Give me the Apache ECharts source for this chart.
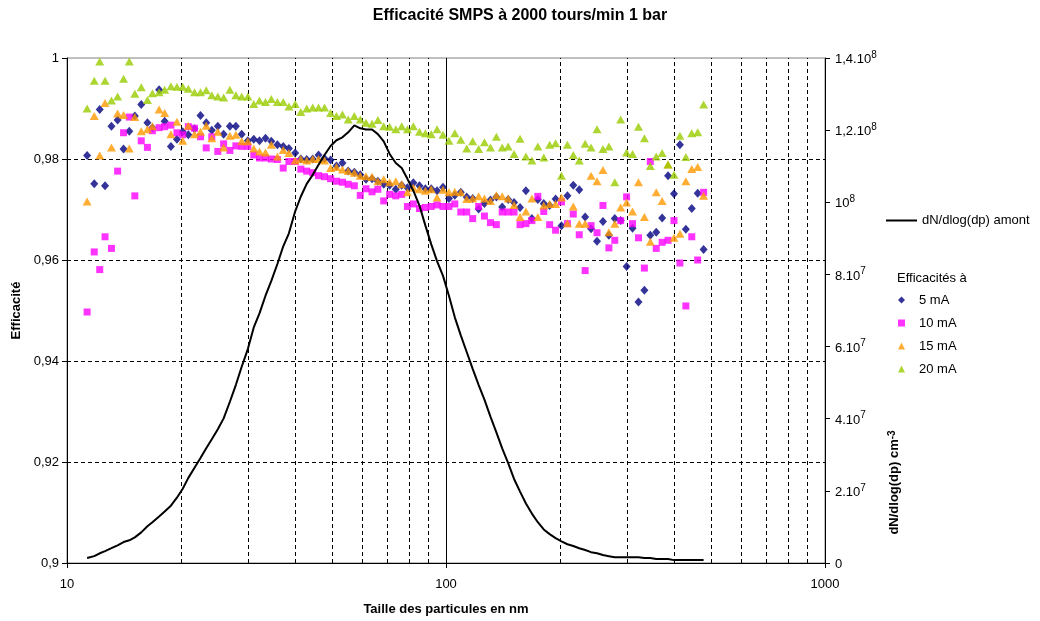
<!DOCTYPE html>
<html>
<head>
<meta charset="utf-8">
<script src="https://cdn.jsdelivr.net/npm/echarts@6/dist/echarts.min.js"></script>
<style>
  html, body { margin: 0; padding: 0; background: #fff; }
  #chart { width: 1040px; height: 621px; }
</style>
</head>
<body>
<div id="chart"></div>
<script>
// SMPS channel mid-point diameters (nm), 64 channels per decade
const sizes = [
  11.3, 11.8, 12.2, 12.6, 13.1, 13.6, 14.1, 14.6, 15.1, 15.7,
  16.3, 16.8, 17.5, 18.1, 18.8, 19.5, 20.2, 20.9, 21.7, 22.5,
  23.3, 24.1, 25.0, 25.9, 26.9, 27.9, 28.9, 30.0, 31.1, 32.2,
  33.4, 34.6, 35.9, 37.2, 38.5, 40.0, 41.4, 42.9, 44.5, 46.1,
  47.8, 49.6, 51.4, 53.3, 55.2, 57.3, 59.4, 61.5, 63.8, 66.1,
  68.5, 71.0, 73.7, 76.4, 79.1, 82.0, 85.1, 88.2, 91.4, 94.7,
  98.2, 101.8, 105.5, 109.4, 113.4, 117.6, 121.9, 126.3, 131.0, 135.8,
  140.7, 145.9, 151.2, 156.8, 162.5, 168.5, 174.7, 181.1, 187.7, 194.6,
  201.7, 209.1, 216.7, 224.7, 232.9, 241.4, 250.3, 259.5, 269.0, 278.8,
  289.0, 299.6, 310.6, 322.0, 333.8, 346.0, 358.7, 371.8, 385.4, 399.5,
  414.2, 429.4, 445.1, 461.4, 478.3
];

// Collection efficiency at 5 mA
const eff5mA = [
  0.9807, 0.9751, 0.9898, 0.9747, 0.9865, 0.9877, 0.9820, 0.9855, 0.9885, 0.9908,
  0.9872, 0.9862, 0.9937, 0.9875, 0.9825, 0.9839, 0.9854, 0.9848, 0.9860, 0.9886,
  0.9872, 0.9857, 0.9865, 0.9849, 0.9865, 0.9865, 0.9849, 0.9836, 0.9839, 0.9836,
  0.9841, 0.9835, 0.9828, 0.9825, 0.9821, 0.9812, 0.9800, 0.9799, 0.9800, 0.9808,
  0.9801, 0.9798, 0.9786, 0.9792, 0.9776, 0.9774, 0.9769, 0.9760, 0.9761, 0.9756,
  0.9750, 0.9748, 0.9740, 0.9748, 0.9743, 0.9753, 0.9747, 0.9741, 0.9741, 0.9737,
  0.9744, 0.9722, 0.9728, 0.9734, 0.9725, 0.9722, 0.9701, 0.9712, 0.9719, 0.9725,
  0.9705, 0.9720, 0.9714, 0.9704, 0.9737, 0.9682, 0.9720, 0.9712, 0.9708, 0.9721,
  0.9668, 0.9727, 0.9748, 0.9739, 0.9685, 0.9662, 0.9637, 0.9676, 0.9649, 0.9682,
  0.9678, 0.9587, 0.9663, 0.9517, 0.9540, 0.9649, 0.9655, 0.9683, 0.9767, 0.9731,
  0.9828, 0.9661, 0.9702, 0.9732, 0.9621
];

// Collection efficiency at 10 mA
const eff10mA = [
  0.9497, 0.9616, 0.9581, 0.9646, 0.9623, 0.9776, 0.9852, 0.9883, 0.9727, 0.9836,
  0.9823, 0.9856, 0.9862, 0.9864, 0.9867, 0.9852, 0.9848, 0.9864, 0.9861, 0.9844,
  0.9822, 0.9844, 0.9815, 0.9830, 0.9817, 0.9826, 0.9825, 0.9825, 0.9808, 0.9802,
  0.9802, 0.9800, 0.9799, 0.9782, 0.9795, 0.9795, 0.9780, 0.9776, 0.9773, 0.9767,
  0.9765, 0.9761, 0.9756, 0.9754, 0.9750, 0.9747, 0.9728, 0.9741, 0.9735, 0.9740,
  0.9717, 0.9730, 0.9727, 0.9730, 0.9706, 0.9711, 0.9702, 0.9704, 0.9706, 0.9709,
  0.9706, 0.9706, 0.9711, 0.9695, 0.9695, 0.9682, 0.9706, 0.9687, 0.9674, 0.9670,
  0.9695, 0.9695, 0.9695, 0.9670, 0.9672, 0.9678, 0.9726, 0.9696, 0.9670, 0.9659,
  0.9715, 0.9672, 0.9691, 0.9650, 0.9579, 0.9668, 0.9654, 0.9708, 0.9624, 0.9639,
  0.9678, 0.9725, 0.9672, 0.9644, 0.9584, 0.9795, 0.9623, 0.9635, 0.9639, 0.9678,
  0.9594, 0.9509, 0.9646, 0.9600, 0.9734
];

// Collection efficiency at 15 mA
const eff15mA = [
  0.9716, 0.9885, 0.9807, 0.9911, 0.9823, 0.9890, 0.9887, 0.9821, 0.9883, 0.9855,
  0.9859, 0.9865, 0.9898, 0.9891, 0.9849, 0.9874, 0.9836, 0.9866, 0.9849, 0.9854,
  0.9866, 0.9841, 0.9854, 0.9823, 0.9846, 0.9848, 0.9835, 0.9835, 0.9821, 0.9815,
  0.9813, 0.9828, 0.9805, 0.9818, 0.9812, 0.9797, 0.9800, 0.9797, 0.9800, 0.9800,
  0.9797, 0.9782, 0.9784, 0.9779, 0.9776, 0.9773, 0.9767, 0.9766, 0.9765, 0.9756,
  0.9760, 0.9754, 0.9756, 0.9750, 0.9734, 0.9743, 0.9740, 0.9737, 0.9740, 0.9724,
  0.9739, 0.9734, 0.9735, 0.9734, 0.9721, 0.9722, 0.9726, 0.9722, 0.9717, 0.9728,
  0.9726, 0.9722, 0.9709, 0.9685, 0.9696, 0.9722, 0.9685, 0.9708, 0.9711, 0.9711,
  0.9724, 0.9673, 0.9706, 0.9672, 0.9672, 0.9767, 0.9756, 0.9778, 0.9655, 0.9672,
  0.9704, 0.9714, 0.9696, 0.9754, 0.9685, 0.9636, 0.9734, 0.9717, 0.9789, 0.9644,
  0.9652, 0.9756, 0.9780, 0.9784, 0.9727
];

// Collection efficiency at 20 mA
const eff20mA = [
  0.9900, 0.9955, 0.9993, 0.9955, 0.9916, 0.9924, 0.9959, 0.9993, 0.9929, 0.9942,
  0.9917, 0.9930, 0.9932, 0.9937, 0.9944, 0.9943, 0.9943, 0.9939, 0.9932, 0.9932,
  0.9936, 0.9926, 0.9924, 0.9922, 0.9937, 0.9926, 0.9924, 0.9924, 0.9909, 0.9916,
  0.9913, 0.9919, 0.9913, 0.9913, 0.9904, 0.9909, 0.9893, 0.9900, 0.9902, 0.9902,
  0.9902, 0.9891, 0.9885, 0.9888, 0.9878, 0.9885, 0.9878, 0.9872, 0.9870, 0.9877,
  0.9865, 0.9864, 0.9859, 0.9865, 0.9859, 0.9865, 0.9854, 0.9851, 0.9849, 0.9859,
  0.9848, 0.9836, 0.9851, 0.9838, 0.9821, 0.9835, 0.9820, 0.9833, 0.9823, 0.9844,
  0.9823, 0.9825, 0.9810, 0.9840, 0.9805, 0.9797, 0.9825, 0.9803, 0.9828, 0.9831,
  0.9767, 0.9828, 0.9808, 0.9797, 0.9830, 0.9823, 0.9859, 0.9820, 0.9825, 0.9754,
  0.9878, 0.9813, 0.9810, 0.9864, 0.9841, 0.9786, 0.9805, 0.9812, 0.9789, 0.9769,
  0.9846, 0.9804, 0.9851, 0.9853, 0.9908
];

// Upstream size distribution dN/dlog(dp), in millions of particles per cm3
const dNdlogDpMillions = [
  1.4, 1.9, 2.7, 3.3, 4.1, 4.9, 5.8, 6.3, 7.1, 8.5,
  10.2, 11.3, 12.9, 14.3, 15.9, 18.1, 20.6, 23.6, 26.4, 29.1,
  31.8, 34.3, 37.1, 40.1, 44.7, 49.4, 54.4, 59.3, 65.3, 69.2,
  74.1, 78.2, 82.9, 87.8, 91.4, 97.5, 101.6, 105.1, 107.6, 110.4,
  113.1, 115.6, 117.2, 118.0, 119.4, 121.3, 120.5, 120.2, 120.2, 118.9,
  116.9, 113.4, 110.9, 109.5, 106.5, 103.2, 99.1, 93.6, 88.4, 83.7,
  79.6, 74.1, 68.1, 63.1, 58.5, 53.8, 49.4, 45.3, 40.6, 36.2,
  31.8, 27.7, 23.3, 19.8, 16.5, 13.7, 11.3, 9.3, 8.0, 6.9,
  6.0, 5.2, 4.7, 4.1, 3.6, 3.0, 2.7, 2.2, 1.9, 1.6,
  1.6, 1.6, 1.6, 1.6, 1.4, 1.4, 1.1, 1.1, 1.1, 0.8,
  0.8, 0.8, 0.8, 0.8, 0.8
];

// Tick labels of the right axis: [mantissa, power of ten]
const rightTickLabels = [
  ['0', ''], ['2.10', '7'], ['4.10', '7'], ['6.10', '7'], ['8.10', '7'],
  ['10', '8'], ['1,2.10', '8'], ['1,4.10', '8']
];

// Dashed reference lines
const sizeGridLines = [20, 30, 40, 50, 60, 70, 80, 90, 200, 300, 400, 500, 600, 700, 800, 900];
const effGridLines = [0.92, 0.94, 0.96, 0.98];

const FONT = '"Liberation Sans", Arial, sans-serif';
const pairs = (xs, ys, k) => xs.map((x, i) => [x, ys[i] * (k || 1)]);

const chart = echarts.init(document.getElementById('chart'), null, { renderer: 'canvas' });

const option = {
  animation: false,
  textStyle: { fontFamily: FONT, color: '#000' },
  title: [
    {
      text: 'Efficacité SMPS à 2000 tours/min 1 bar',
      left: 'center', top: 8, padding: 0,
      textStyle: { fontFamily: FONT, fontSize: 16, fontWeight: 'bold', color: '#000' }
    },
    {
      text: 'Efficacités à',
      left: 897, top: 272, padding: 0,
      textStyle: { fontFamily: FONT, fontSize: 13, fontWeight: 'normal', color: '#000' }
    }
  ],
  grid: {
    left: 67, right: 215, top: 58, bottom: 53,
    show: true, borderColor: '#808080', borderWidth: 1, backgroundColor: 'transparent'
  },
  legend: [
    {
      data: [{ name: 'dN/dlog(dp) amont', icon: 'rect' }],
      left: 886, top: 214, padding: 0,
      itemWidth: 31, itemHeight: 2,
      selectedMode: false,
      textStyle: { fontFamily: FONT, fontSize: 13, color: '#000' }
    },
    {
      data: ['5 mA', '10 mA', '15 mA', '20 mA'],
      orient: 'vertical', left: 898, top: 293, padding: 0,
      itemWidth: 7, itemHeight: 7, itemGap: 9,
      selectedMode: false,
      textStyle: { fontFamily: FONT, fontSize: 13, color: '#000', lineHeight: 14, padding: [0, 0, 0, 9] }
    }
  ],
  xAxis: {
    type: 'log', logBase: 10, min: 10, max: 1000,
    name: 'Taille des particules en nm',
    nameLocation: 'middle', nameGap: 40,
    nameTextStyle: { fontFamily: FONT, fontSize: 13, fontWeight: 'bold', color: '#000' },
    axisLine: { lineStyle: { color: '#000', width: 1 } },
    axisTick: { show: true, length: 5, lineStyle: { color: '#000' } },
    axisLabel: { fontFamily: FONT, fontSize: 13, color: '#000', margin: 15, formatter: v => String(v) },
    splitLine: { show: true, lineStyle: { color: '#000', width: 1 } },
    minorTick: { show: false },
    minorSplitLine: { show: false }
  },
  yAxis: [
    {
      type: 'value', min: 0.9, max: 1, interval: 0.02,
      name: 'Efficacité', nameLocation: 'middle', nameGap: 42, nameRotate: 90,
      nameTextStyle: { fontFamily: FONT, fontSize: 13, fontWeight: 'bold', color: '#000' },
      axisLine: { show: true, lineStyle: { color: '#000', width: 1 } },
      axisTick: { show: true, length: 5, lineStyle: { color: '#000' } },
      axisLabel: {
        fontFamily: FONT, fontSize: 13, color: '#000', margin: 8,
        formatter: v => String(+v.toFixed(2)).replace('.', ',')
      },
      splitLine: { show: false }
    },
    {
      type: 'value', position: 'right', min: 0, max: 1.4e8, interval: 2e7,
      name: 'dN/dlog(dp) cm{sup|-3}', nameLocation: 'middle', nameGap: 56, nameRotate: 90,
      nameTextStyle: {
        fontFamily: FONT, fontSize: 13, fontWeight: 'bold', color: '#000',
        padding: [0, 344, 0, 0],
        rich: { sup: { fontFamily: FONT, fontSize: 10, fontWeight: 'bold', color: '#000', verticalAlign: 'top', lineHeight: 10 } }
      },
      axisLine: { show: true, lineStyle: { color: '#000', width: 1 } },
      axisTick: { show: true, length: 5, lineStyle: { color: '#000' } },
      axisLabel: {
        fontFamily: FONT, fontSize: 13, color: '#000', margin: 10,
        formatter: v => {
          const t = rightTickLabels[Math.round(v / 2e7)];
          return t[1] ? '{b|' + t[0] + '}{s|' + t[1] + '}' : '{b|' + t[0] + '}';
        },
        rich: {
          b: { fontFamily: FONT, fontSize: 13, color: '#000', lineHeight: 16, verticalAlign: 'bottom' },
          s: { fontFamily: FONT, fontSize: 10, color: '#000', lineHeight: 16, verticalAlign: 'top' }
        }
      },
      splitLine: { show: false }
    }
  ],
  series: [
    {
      name: '5 mA', type: 'scatter', symbol: 'diamond', symbolSize: [8, 9],
      itemStyle: { color: '#000080' },
      data: pairs(sizes, eff5mA),
      markLine: {
        silent: true, symbol: 'none', z: 1, animation: false,
        label: { show: false },
        emphasis: { disabled: true },
        lineStyle: { color: '#000', type: [4, 3], width: 1 },
        data: sizeGridLines.map(v => ({ xAxis: v })).concat(effGridLines.map(v => ({ yAxis: v })))
      }
    },
    {
      name: '10 mA', type: 'scatter', symbol: 'rect', symbolSize: 7,
      itemStyle: { color: '#FF00FF' },
      data: pairs(sizes, eff10mA)
    },
    {
      name: '15 mA', type: 'scatter', symbol: 'triangle', symbolSize: [9, 8],
      itemStyle: { color: '#FF9900' },
      data: pairs(sizes, eff15mA)
    },
    {
      name: '20 mA', type: 'scatter', symbol: 'triangle', symbolSize: [9, 8],
      itemStyle: { color: '#99CC00' },
      data: pairs(sizes, eff20mA)
    },
    {
      name: 'dN/dlog(dp) amont', type: 'line', yAxisIndex: 1,
      symbol: 'none', showSymbol: false, z: 3,
      lineStyle: { color: '#000', width: 2 },
      itemStyle: { color: '#000' },
      data: pairs(sizes, dNdlogDpMillions, 1e6)
    }
  ]
};

chart.setOption(option);
</script>
</body>
</html>
